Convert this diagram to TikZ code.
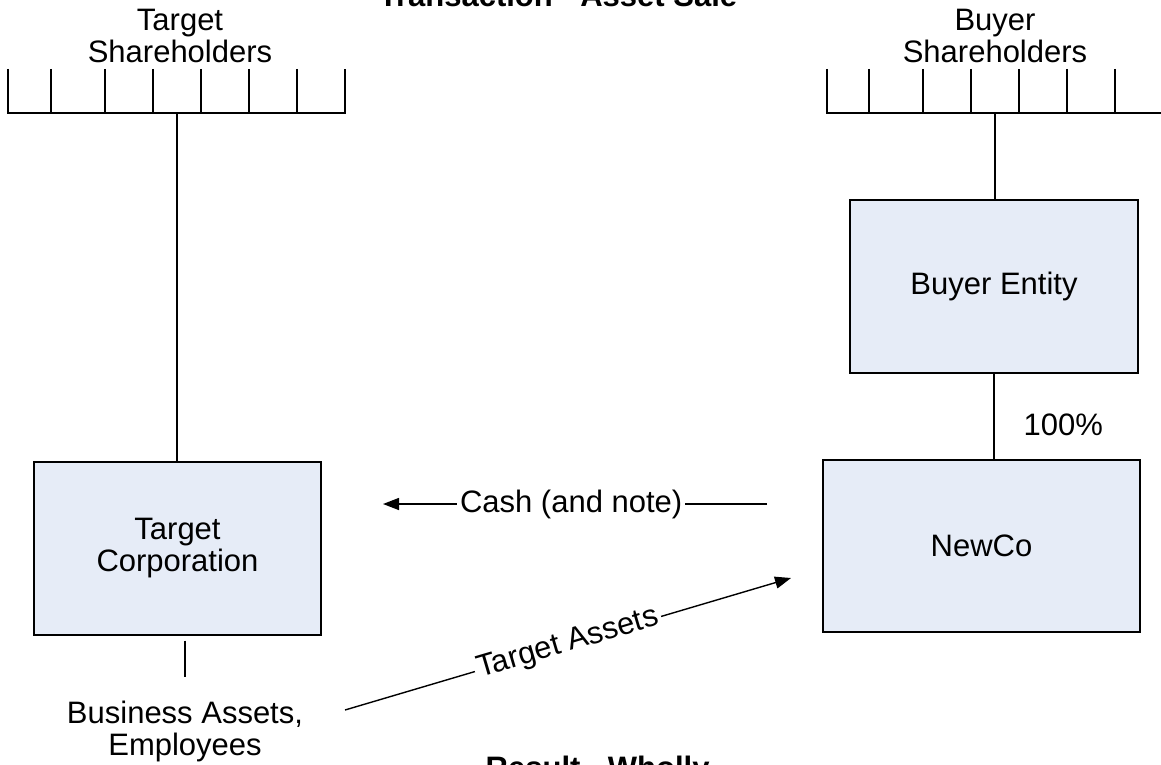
\documentclass[tikz,border=0pt]{standalone}
\usepackage{fontspec}
\setmainfont{Liberation Sans}
\usetikzlibrary{arrows.meta,positioning}
\definecolor{boxfill}{RGB}{230,236,247}
\newcommand{\dgfont}{\fontsize{15.5pt}{16pt}\selectfont}
\tikzset{
    >={Triangle[length=8pt,width=6pt]},
    every picture/.style={line width=0.7pt},
    entity/.style={draw,fill=boxfill,align=center,font=\dgfont,minimum height=86.5pt},
    plaintext/.style={align=center,font=\dgfont,inner sep=0pt},
    flowtext/.style={font=\dgfont,fill=white,inner sep=1.5pt}
}

\begin{document}
\begin{tikzpicture}[x=0.5pt,y=-0.5pt]
    \useasboundingbox (0,0) rectangle (1161,765);

    % titles (cut by the page edge)
    \node (title) [font=\dgfont\bfseries,anchor=base,inner sep=0pt] at (558,7) {Transaction - Asset Sale};
    \node (result) [font=\dgfont\bfseries,anchor=north west,inner sep=0pt] at (485,755) {Result - Wholly};

    % shareholders
    \node (tsh) [plaintext,anchor=south] at (180,64) {Target\\Shareholders};
    \node (bsh) [plaintext,anchor=south] at (995,64) {Buyer\\Shareholders};
    \draw (8,69) -- (8,113) -- (345,113) -- (345,69);
    \foreach \x in {51,105,153,201,249,297}
        \draw (\x,69) -- (\x,113);
    \draw (827,69) -- (827,113) -- (1161,113);
    \foreach \x in {869,923,971,1019,1067,1115}
        \draw (\x,69) -- (\x,113);
    \coordinate (tcomb) at (177,113);
    \coordinate (bcomb) at (995,113);

    % entities
    \node (tcorp) [entity,minimum width=143.5pt] at (177.5,548.5) {Target\\Corporation};
    \node (bent) [entity,minimum width=144pt] at (994,286.5) {Buyer Entity};
    \node (newco) [entity,minimum width=158.5pt,minimum height=86pt] at (981.5,546) {NewCo};
    \node (biz) [plaintext,anchor=base] at (185,755) {Business Assets,\\Employees};

    \draw (tcomb) -- (tcomb |- tcorp.north);
    \draw (bcomb) -- (bcomb |- bent.north);
    \draw (bent.south) -- (bent.south |- newco.north);
    \node (pct) [plaintext,anchor=base west] at (1023,435) {100\%};
    \draw ([yshift=-2.5pt]tcorp.south -| biz) -- ([yshift=-20.5pt]tcorp.south -| biz);

    % flows
    \coordinate (cashfrom) at (767,504);
    \coordinate (cashto) at (383,504);
    \draw[->] (cashfrom) -- node[flowtext,pos=0.51] {Cash (and note)} (cashto);
    \coordinate (assetfrom) at (345,710);
    \coordinate (assetto) at (791,578);
    \draw[->] (assetfrom) -- node[flowtext,sloped] {Target Assets} (assetto);
\end{tikzpicture}
\end{document}
